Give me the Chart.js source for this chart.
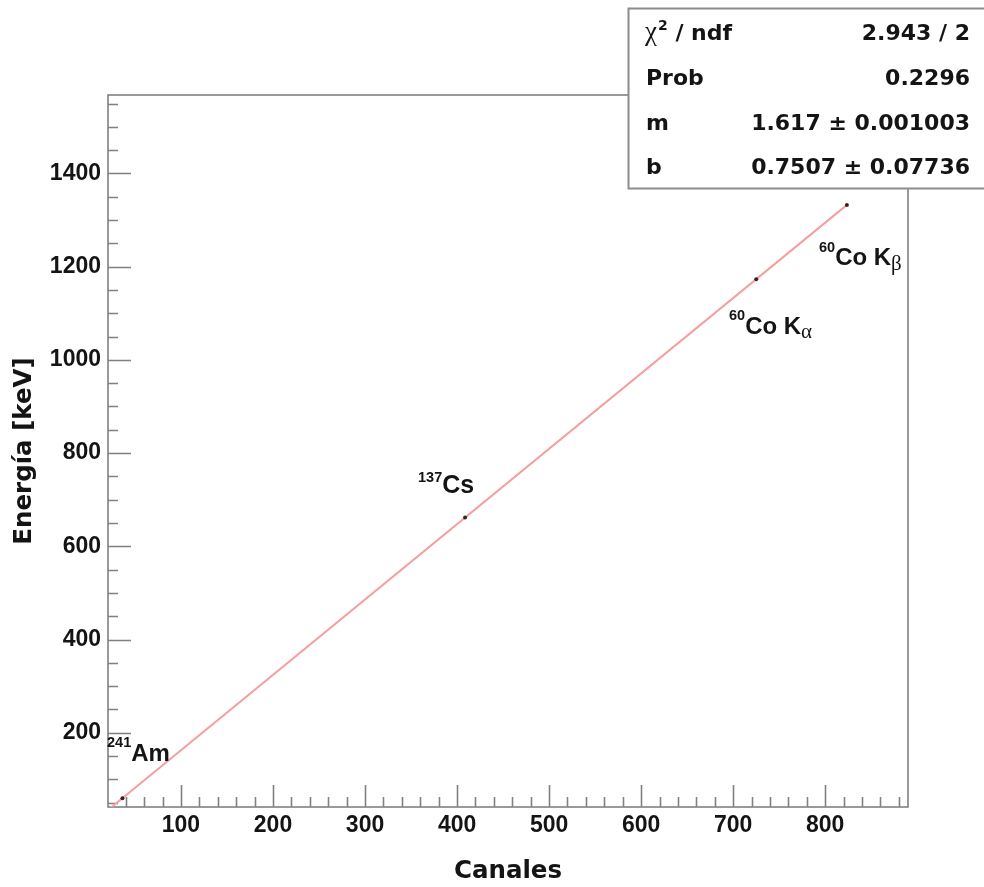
<!DOCTYPE html>
<html><head><meta charset="utf-8">
<script src="https://cdn.jsdelivr.net/npm/chart.js@4/dist/chart.umd.min.js"></script>
<style>html,body{margin:0;padding:0;background:#fff;}#wrap{width:984px;height:887px;position:relative;}</style>
</head><body><div id="wrap"><canvas id="c" width="984" height="887"></canvas></div>
<script>
// ---- data ----
const sourceNames = ['241Am', '137Cs', '60Co Kα', '60Co Kβ'];
const channels = [36.4, 408.7, 725.1, 823.6];
const energies = [59.5, 661.7, 1173.2, 1332.5];
const fitChannels = [20.7, 824.0];
const fitEnergies = [34.2, 1333.2];
const xTickLabels = [100, 200, 300, 400, 500, 600, 700, 800];
const yTickLabels = [200, 400, 600, 800, 1000, 1200, 1400];
const statNames = ['χ', 'Prob', 'm', 'b'];
const statValues = ['2.943 / 2', '0.2296', '1.617 ± 0.001003', '0.7507 ± 0.07736'];
const xTitle = 'Canales';
const yTitle = 'Energía [keV]';

const X_MIN = 20.7, X_MAX = 890, Y_MIN = 40.6, Y_MAX = 1568.4;
const TEXT = '#141414', FRAME = '#808080';
const SANS = '"Liberation Sans", Arial, sans-serif';
const WIDE = '"DejaVu Sans", sans-serif';
const SERIF = '"Liberation Serif", serif';

function rich(ctx, x, base, parts) {
  let cx = x;
  for (const p of parts) {
    ctx.font = p.font;
    ctx.fillText(p.t, cx, base + (p.dy || 0));
    cx += ctx.measureText(p.t).width + (p.gap || 0);
  }
}

const rootPlugin = {
  id: 'rootStyle',
  beforeDatasetsDraw(chart) {
    const { ctx, chartArea: a, scales: { x, y } } = chart;
    ctx.save();
    ctx.strokeStyle = FRAME; ctx.lineWidth = 1.6;
    ctx.strokeRect(a.left, a.top, a.right - a.left, a.bottom - a.top);
    ctx.beginPath();
    for (let v = 20; v <= X_MAX; v += 20) {
      if (v <= X_MIN) continue;
      const px = Math.round(x.getPixelForValue(v)) + 0.5;
      const len = v % 100 === 0 ? 22 : 10;
      ctx.moveTo(px, a.bottom); ctx.lineTo(px, a.bottom - len);
    }
    for (let v = 50; v <= Y_MAX; v += 50) {
      if (v <= Y_MIN) continue;
      const py = Math.round(y.getPixelForValue(v)) + 0.5;
      const len = v % 200 === 0 ? 23 : 10;
      ctx.moveTo(a.left, py); ctx.lineTo(a.left + len, py);
    }
    ctx.stroke();
    ctx.restore();
  },
  afterDatasetsDraw(chart) {
    const { ctx } = chart;
    ctx.save();
    ctx.fillStyle = TEXT; ctx.textAlign = 'left'; ctx.textBaseline = 'alphabetic';
    const big = 'bold 24px ' + SANS, sup = 'bold 14.5px ' + SANS, greek = '21px ' + SERIF;
    rich(ctx, 107, 761, [{ t: '241', font: sup, dy: -14 }, { t: 'Am', font: big }]);
    rich(ctx, 418, 493, [{ t: '137', font: sup, dy: -11 }, { t: 'Cs', font: 'bold 25px ' + SANS }]);
    rich(ctx, 729, 334, [{ t: '60', font: sup, dy: -14 }, { t: 'Co K', font: big }, { t: 'α', font: greek, dy: 4 }]);
    rich(ctx, 819, 265, [{ t: '60', font: sup, dy: -13 }, { t: 'Co K', font: big }, { t: 'β', font: greek, dy: 5 }]);
    ctx.restore();
  },
  afterDraw(chart) {
    const { ctx, chartArea: a } = chart;
    ctx.save();
    ctx.fillStyle = TEXT;
    // axis titles
    ctx.font = 'bold 24.5px ' + WIDE;
    ctx.textAlign = 'center'; ctx.textBaseline = 'middle';
    ctx.fillText(xTitle, (a.left + a.right) / 2, 872);
    ctx.save();
    ctx.translate(25, (a.top + a.bottom) / 2);
    ctx.rotate(-Math.PI / 2);
    ctx.fillText(yTitle, 0, 0);
    ctx.restore();
    // stats box
    ctx.fillStyle = '#ffffff';
    ctx.fillRect(628, 8, 400, 180);
    ctx.strokeStyle = '#8c8c8c'; ctx.lineWidth = 2;
    ctx.strokeRect(628.5, 8.5, 400, 180);
    ctx.fillStyle = TEXT;
    const sf = 'bold 22px ' + WIDE;
    const base = [39.5, 85, 129.5, 174];
    ctx.textBaseline = 'alphabetic';
    ctx.textAlign = 'left';
    rich(ctx, 645, base[0], [{ t: statNames[0], font: '27px ' + SERIF, gap: 1 }, { t: '2', font: 'bold 14px ' + WIDE, dy: -10, gap: 0 }, { t: ' / ndf', font: sf }]);
    for (let i = 1; i < 4; i++) { ctx.font = sf; ctx.fillText(statNames[i], 646, base[i]); }
    ctx.textAlign = 'right';
    for (let i = 0; i < 4; i++) { ctx.font = sf; ctx.fillText(statValues[i], 970, base[i]); }
    ctx.restore();
  }
};

new Chart(document.getElementById('c'), {
  data: {
    datasets: [
      { type: 'scatter', label: 'puntos',
        data: channels.map((c, i) => ({ x: c, y: energies[i] })),
        pointRadius: 2, pointBackgroundColor: '#3a2020', pointBorderWidth: 0 },
      { type: 'line', label: 'ajuste',
        data: fitChannels.map((c, i) => ({ x: c, y: fitEnergies[i] })),
        borderColor: '#f4a0a0', borderWidth: 2, pointRadius: 0, tension: 0, fill: false }
    ]
  },
  options: {
    responsive: false, animation: false, devicePixelRatio: 1,
    layout: { padding: { top: 95, right: 76, left: 0, bottom: 0 } },
    plugins: { legend: { display: false }, tooltip: { enabled: false } },
    scales: {
      x: {
        type: 'linear', min: X_MIN, max: X_MAX,
        grid: { display: false, drawTicks: false }, border: { display: false },
        afterFit: s => { s.height = 80; },
        ticks: {
          stepSize: 100, includeBounds: false, autoSkip: false, maxRotation: 0, padding: 5,
          color: TEXT, font: { family: SANS, size: 23, weight: 'bold' },
          callback: v => xTickLabels.includes(v) ? String(v) : ''
        }
      },
      y: {
        type: 'linear', min: Y_MIN, max: Y_MAX,
        grid: { display: false, drawTicks: false }, border: { display: false },
        afterFit: s => { s.width = 108; },
        ticks: {
          stepSize: 200, includeBounds: false, autoSkip: false, padding: 7,
          color: TEXT, font: { family: SANS, size: 23, weight: 'bold' },
          callback: v => yTickLabels.includes(v) ? String(v) : ''
        }
      }
    }
  },
  plugins: [rootPlugin]
});
</script></body></html>
